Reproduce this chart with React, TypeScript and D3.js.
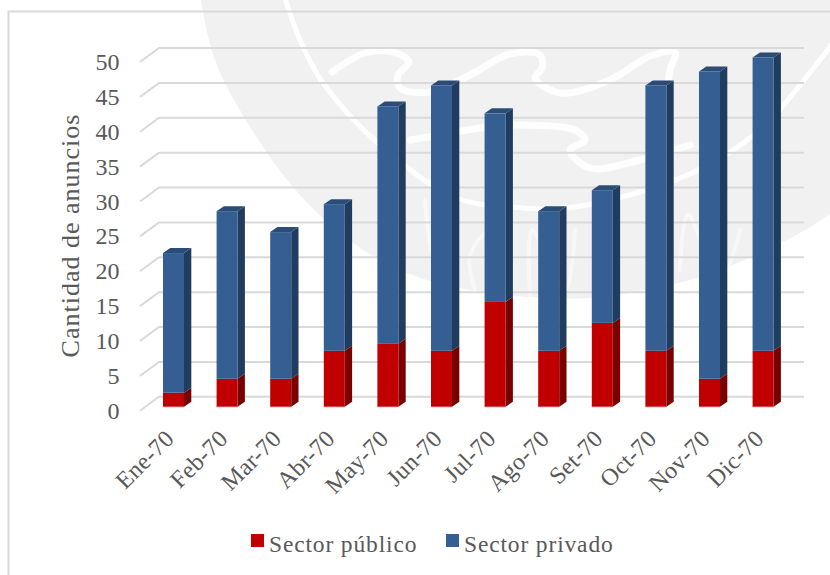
import React from "react";
import * as d3 from "d3";

// Monthly job advert counts, 1970
const months = ["Ene-70", "Feb-70", "Mar-70", "Abr-70", "May-70", "Jun-70", "Jul-70", "Ago-70", "Set-70", "Oct-70", "Nov-70", "Dic-70"];
const sectorPublico = [2, 4, 4, 8, 9, 8, 15, 8, 12, 8, 4, 8];
const sectorPrivado = [20, 24, 21, 21, 34, 38, 27, 20, 19, 38, 44, 42];
const yTicks = [0, 5, 10, 15, 20, 25, 30, 35, 40, 45, 50];

const FONT = "'Liberation Serif', serif";
const TEXT = "#595959";
const GRID = "#d9d9d9";
const SHADE = "#f1f1f1";

// Chart depth: the back wall sits up and to the right of the front plane
const wallDx = 19;
const wallDy = 14;
const barDx = 7.3;
const barDy = 5;

const x = d3.scaleBand<string>().domain(months).range([146.7, 789.9]).paddingInner(0.608).paddingOuter(0.304);
const y = d3.scaleLinear().domain([0, 50]).range([406.7, 57.5]);
const wallY = d3.scaleLinear().domain([0, 50]).range([396.8, 48]);

const series = [
  { name: "Sector público", values: sectorPublico, front: "#c00000", side: "#7a0000", top: "#9a0000", edge: "#d24a4a" },
  { name: "Sector privado", values: sectorPrivado, front: "#355f93", side: "#203c5e", top: "#2a4c76", edge: "#4a729f" },
];
const stacked = d3.stack<number>().keys(["0", "1"]).value((i, k) => series[+k].values[i])(months.map((_, i) => i));

// Background crest, drawn as smooth outlines
const smooth = d3.line<number[]>().curve(d3.curveCatmullRom.alpha(0.5));
const crestOutline = [[200, -5], [215, 60], [254, 133], [300, 195], [349, 240], [400, 270], [454, 287], [530, 297], [600, 297], [700, 277], [800, 233], [835, 210]];
const crestRing = [[284, -5], [300, 40], [323, 83], [380, 145], [454, 197], [510, 207], [575, 207], [692, 173], [760, 130], [796, 90], [835, 40]];
const crestStrokes = [
  [[332, 72], [365, 53], [393, 52], [409, 62], [398, 75], [400, 88], [430, 92], [470, 75], [510, 54], [540, 55], [542, 68], [535, 78], [560, 93], [610, 80], [650, 56], [675, 52], [670, 70], [668, 85]],
  [[410, 140], [440, 135], [480, 128], [520, 125], [575, 130], [585, 140], [570, 150], [590, 168], [640, 160], [690, 145]],
  [[425, 200], [430, 245], [440, 285]],
  [[475, 290], [470, 255], [490, 232], [505, 260]],
  [[530, 295], [532, 230], [565, 290], [575, 230]],
  [[680, 270], [688, 215], [720, 280], [740, 230]],
];

export default function App() {
  const xEnd = 804;
  return (
    <svg width={830} height={575} style={{ position: "absolute", left: 0, top: 0, background: "#fff" }} fontFamily={FONT}>
      <path d={`${smooth(crestOutline)}L835,-5Z`} fill={SHADE} />
      <path d={smooth(crestRing)!} fill="none" stroke="#fff" strokeWidth={5} />
      {crestStrokes.map((s, i) => (
        <path key={i} d={smooth(s)!} fill="none" stroke="#fff" strokeWidth={i < 2 ? 7 : 4} strokeLinejoin="round" strokeLinecap="round" opacity={i < 2 ? 0.9 : 0.5} />
      ))}

      <path d="M8.5,575V11.5H830" fill="none" stroke={GRID} strokeWidth={2} />

      {yTicks.map((t) => {
        const yb = wallY(t);
        const xb = 140 + wallDx;
        return (
          <g key={t}>
            <polyline points={`${xb - wallDx},${yb + wallDy} ${xb},${yb} ${xEnd},${yb}`} fill="none" stroke={GRID} strokeWidth={2} />
            <text x={119.5} y={yb + wallDy + 8} textAnchor="end" fontSize={24} fill={TEXT}>{t}</text>
          </g>
        );
      })}

      {months.map((m, i) => {
        const x0 = x(m)!;
        const w = x.bandwidth();
        return (
          <g key={m}>
            {series.map((s, k) => {
              const yTop = y(stacked[k][i][1]);
              const yBot = y(stacked[k][i][0]);
              return (
                <g key={s.name}>
                  <polygon points={`${x0 + w},${yTop} ${x0 + w + barDx},${yTop - barDy} ${x0 + w + barDx},${yBot - barDy} ${x0 + w},${yBot}`} fill={s.side} />
                  {k === series.length - 1 && (
                    <polygon points={`${x0},${yTop} ${x0 + barDx},${yTop - barDy} ${x0 + w + barDx},${yTop - barDy} ${x0 + w},${yTop}`} fill={s.top} />
                  )}
                  <rect x={x0} y={yTop} width={w} height={yBot - yTop} fill={s.front} />
                </g>
              );
            })}
            <line x1={x0} x2={x0 + w} y1={y(0)} y2={y(0)} stroke={series[0].edge} strokeWidth={1} />
            <text
              transform={`translate(${x0 + w / 2 + 2},${440}) rotate(-45)`}
              textAnchor="end"
              fontSize={24}
              letterSpacing={0.3}
              fill={TEXT}
            >
              {m}
            </text>
          </g>
        );
      })}

      <text transform="translate(79,235.5) rotate(-90)" textAnchor="middle" fontSize={26} letterSpacing={1} fill={TEXT}>Cantidad de anuncios</text>

      {series.map((s, k) => {
        const lx = k === 0 ? 251 : 446;
        return (
          <g key={s.name}>
            <rect x={lx} y={534} width={13} height={13} fill={s.front} />
            <text x={lx + 18} y={551.5} fontSize={23.5} letterSpacing={0.85} fill={TEXT}>{s.name}</text>
          </g>
        );
      })}
    </svg>
  );
}
